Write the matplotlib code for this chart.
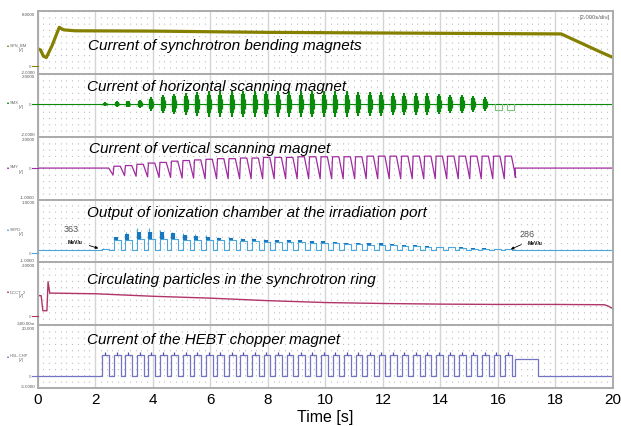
import matplotlib
matplotlib.use('Agg')
import matplotlib.pyplot as plt
from matplotlib.lines import Line2D

plt.rcParams['font.family'] = ['Liberation Sans', 'DejaVu Sans']

# ---- data (y in grid divisions 0..10 per panel) ----
# beam pulse start times [s] (chopper opens)
pulse_t = [2.25, 2.65, 3.05, 3.45, 3.85, 4.25, 4.65, 5.05, 5.45, 5.85, 6.25, 6.65,
           7.05, 7.45, 7.85, 8.25, 8.65, 9.05, 9.45, 9.85, 10.25, 10.65, 11.05, 11.45,
           11.85, 12.25, 12.65, 13.05, 13.45, 13.85, 14.25, 14.65, 15.05, 15.45, 15.85, 16.25]

# synchrotron bending magnet current
bend_t = [0.0, 0.1, 0.2, 0.3, 0.5, 0.75, 0.9, 1.3, 4.0, 8.0, 12.0, 18.2, 19.6, 20.0]
bend_y = [4.0, 3.8, 2.8, 2.6, 4.5, 7.4, 7.0, 6.85, 6.8, 6.6, 6.5, 6.35, 3.4, 2.6]

# horizontal scanning magnet: burst half amplitudes, then two small dips at the end
hor_base = 5.2
hor_amp = [0.25, 0.45, 0.55, 0.7, 1.1, 1.4, 1.6, 1.8, 1.9, 2.0, 2.0, 2.0, 2.1, 2.0, 2.1, 2.0, 2.0,
           2.0, 2.1, 2.0, 2.0, 2.0, 1.9, 1.9, 1.9, 1.8, 1.8, 1.7, 1.7, 1.6, 1.5, 1.4, 1.3, 1.1]
hor_dip = [1.0, 1.0]

# vertical scanning magnet: level at start of each cycle and level at its end
ver_base = 5.0
ver_top = [5.0, 5.3, 5.4, 5.6, 5.8, 5.9, 6.1, 6.2, 6.3, 6.4, 6.5, 6.5, 6.6, 6.6, 6.7, 6.7, 6.7, 6.8,
           6.8, 6.8, 6.8, 6.8, 6.8, 6.9, 6.9, 6.9, 6.9, 6.9, 6.9, 6.9, 6.9, 6.9, 6.9, 6.9, 6.9, 6.9]
ver_low = [3.9, 3.8, 3.7, 3.6, 3.5, 3.5, 3.4, 3.4, 3.3, 3.3, 3.3, 3.3, 3.3, 3.3, 3.3, 3.3, 3.3, 3.3,
           3.3, 3.3, 3.3, 3.3, 3.3, 3.3, 3.3, 3.3, 3.3, 3.3, 3.3, 3.3, 3.3, 3.3, 3.3, 3.3, 3.3, 3.5]

# ionization chamber: pulse plateau, first spike and dark (spill) part, above baseline
ic_base = 1.9
ic_top = [0.3, 1.6, 1.7, 1.8, 1.8, 1.8, 1.8, 1.7, 1.7, 1.7, 1.6, 1.6, 1.5, 1.5, 1.4, 1.4, 1.3, 1.3,
          1.2, 1.2, 1.1, 1.0, 1.0, 0.9, 0.9, 0.8, 0.7, 0.7, 0.6, 0.5, 0.5, 0.4, 0.3, 0.3, 0.2, 0.2]
ic_peak = [0.4, 2.0, 3.0, 3.5, 3.6, 3.3, 3.0, 2.8, 2.6, 2.4, 2.2, 2.1, 2.0, 1.9, 1.8, 1.7, 1.6, 1.5,
           1.5, 1.4, 1.3, 1.2, 1.2, 1.1, 1.0, 0.9, 0.9, 0.8, 0.7, 0.6, 0.6, 0.5, 0.4, 0.3, 0.3, 0.2]
ic_blob = [0.0, 0.6, 0.9, 1.1, 1.2, 1.1, 0.9, 0.7, 0.6, 0.5, 0.45, 0.4, 0.35, 0.35, 0.3, 0.3, 0.3,
           0.3, 0.3, 0.25, 0.25, 0.25, 0.2, 0.2, 0.2, 0.2, 0.15, 0.15, 0.15, 0.1, 0.1, 0.1, 0.1,
           0.05, 0.05, 0.05]

# circulating particles (DCCT)
circ_t = [0.0, 0.12, 0.18, 0.32, 0.36, 0.42, 0.5, 2.0, 4.0, 6.0, 8.0, 10.0, 12.0, 14.0, 16.0,
          18.0, 19.7, 19.85, 20.0]
circ_y = [4.7, 4.7, 2.3, 2.3, 6.9, 5.1, 5.1, 5.0, 4.6, 4.3, 3.9, 3.6, 3.45, 3.35, 3.3, 3.3,
          3.25, 3.0, 2.6]

# HEBT chopper magnet
chop_low = 1.9
chop_high = 5.3
chop_hold = [16.6, 17.4, 4.6]  # start, end, level of the last long pulse

titles = ['Current of synchrotron bending magnets',
          'Current of horizontal scanning magnet',
          'Current of vertical scanning magnet',
          'Output of ionization chamber at the irradiation port',
          'Circulating particles in the synchrotron ring',
          'Current of the HEBT chopper magnet']
channel_names = ['SYN_BM', 'SMX', 'SMY', 'SSPD', 'DCCT_2', 'HBL-CHP']
top_labels = ['8.0000', '2.0000', '2.0000', '1.0000', '2.0000', '20.000']
bottom_labels = ['-2.0000', '-2.0000', '-1.0000', '-1.0000', '-500.00m', '-5.0000']
colors = ['#858000', '#0a8a0a', '#a02aa0', '#4aa6dc', '#b03468', '#7474c4']
x_ticks = [0, 2, 4, 6, 8, 10, 12, 14, 16, 18, 20]

W, H = 621, 427


def px(x, y):
    return x / W, 1 - y / H


fig = plt.figure(figsize=(6.21, 4.27), dpi=100)
gs = fig.add_gridspec(6, 1, left=37.7 / W, right=613 / W, top=1 - 12 / H, bottom=1 - 389 / H, hspace=0)
axes = [fig.add_subplot(gs[i]) for i in range(6)]

for i, ax in enumerate(axes):
    ax.set_xlim(0, 20)
    ax.set_ylim(0, 10)
    ax.set_xticks(x_ticks)
    ax.set_xticks([t / 5 for t in range(101) if t % 10], minor=True)
    ax.set_yticks([])
    # dotted columns whose dot spacing equals one vertical division -> dot grid
    ax.grid(which='minor', axis='x', color='#bdbdbd', lw=0.8, ls=(0.4, (1, 4.65)))
    ax.grid(which='major', axis='x', color='#d4d4d4', lw=1.0, ls='-')
    ax.tick_params(which='both', length=0)
    for s in ax.spines.values():
        s.set_color('#ababab')
        s.set_linewidth(1.4)
    if i < 5:
        ax.tick_params(labelbottom=False)

# panel 1: bending magnet
axes[0].plot(bend_t, bend_y, color=colors[0], lw=2.3, solid_capstyle='butt')

# panel 2: horizontal scanning magnet
ax = axes[1]
ax.plot([0, 20], [hor_base, hor_base], color=colors[1], lw=0.8)
bx = [pulse_t[k] + 0.1 for k in range(len(hor_amp))]
ax.vlines(bx, [hor_base - a for a in hor_amp], [hor_base + a for a in hor_amp], color=colors[1], lw=1.5)
ax.vlines(bx, [hor_base - 0.75 * a for a in hor_amp], [hor_base + 0.75 * a for a in hor_amp],
          color=colors[1], lw=3.0)
ax.vlines(bx, [hor_base - 0.4 * a for a in hor_amp], [hor_base + 0.4 * a for a in hor_amp],
          color=colors[1], lw=3.8)
for k, d in enumerate(hor_dip):
    t0 = pulse_t[len(hor_amp) + k] + 0.05
    ax.plot([t0, t0, t0 + 0.25, t0 + 0.25], [hor_base, hor_base - d, hor_base - d, hor_base],
            color='#7cc47c', lw=0.8)

# panel 3: vertical scanning magnet (sawtooth per beam pulse)
ax = axes[2]
xs, ys = [0, pulse_t[0]], [ver_base, ver_base]
for k, t0 in enumerate(pulse_t):
    xs += [t0, t0 + 0.22, t0 + 0.37]
    ys += [ver_top[k], ver_top[k], ver_low[k]]
xs += [pulse_t[-1] + 0.37, 16.6, 16.6, 20]
ys += [ver_low[-1], ver_low[-1], ver_base, ver_base]
ax.plot(xs, ys, color=colors[2], lw=0.9)

# panel 4: ionization chamber
ax = axes[3]
xs, ys = [0], [ic_base]
for k, t0 in enumerate(pulse_t):
    xs += [t0, t0, t0 + 0.24, t0 + 0.24]
    ys += [ic_base, ic_base + ic_top[k], ic_base + ic_top[k], ic_base]
xs += [20]
ys += [ic_base]
ax.plot(xs, ys, color=colors[3], lw=0.8)
ax.vlines([t + 0.01 for t in pulse_t], [ic_base + v for v in ic_top], [ic_base + v for v in ic_peak],
          color=colors[3], lw=0.8)
ax.vlines([t + 0.07 for t in pulse_t], [ic_base + v for v in ic_top],
          [ic_base + v + b for v, b in zip(ic_top, ic_blob)], color='#1777bf', lw=3.0)
ax.text(1.18, 5.4, '363', fontsize=6.5, color='#555555', ha='center', va='center')
ax.text(1.3, 3.3, 'MeV/u', fontsize=3.6, fontweight='bold', color='black', ha='center', va='center')
ax.annotate('', xy=(2.2, 2.1), xytext=(1.7, 2.8),
            arrowprops=dict(arrowstyle='-|>', color='black', lw=0.6, mutation_scale=4))
ax.text(17.0, 4.6, '286', fontsize=6.5, color='#555555', ha='center', va='center')
ax.text(17.3, 3.1, 'MeV/u', fontsize=3.6, fontweight='bold', color='black', ha='center', va='center')
ax.annotate('', xy=(16.36, 1.9), xytext=(16.9, 3.0),
            arrowprops=dict(arrowstyle='-|>', color='black', lw=0.6, mutation_scale=4))

# panel 5: circulating particles
axes[4].plot(circ_t, circ_y, color=colors[4], lw=1.0)

# panel 6: chopper
ax = axes[5]
xs, ys = [0], [chop_low]
for t0 in pulse_t:
    xs += [t0, t0, t0 + 0.23, t0 + 0.23]
    ys += [chop_low, chop_high, chop_high, chop_low]
xs += [chop_hold[0], chop_hold[0], chop_hold[1], chop_hold[1], 20]
ys += [chop_low, chop_hold[2], chop_hold[2], chop_low, chop_low]
ax.plot(xs, ys, color=colors[5], lw=0.9)
ax.vlines([t + 0.09 for t in pulse_t], chop_high, chop_high + 0.35, color='#5050a8', lw=0.9)

# titles
title_pos = [(88, 46), (87, 87), (89, 149), (87, 213), (87, 280), (87, 340)]
for (x, y), t in zip(title_pos, titles):
    fig.text(*px(x, y), t, fontsize=11, style='italic', ha='left', va='center', color='black')

# scope labels at the left side
name_y = [47.7, 105, 169.3, 231.7, 294, 358]
zero_y = [66.7, 105, 169.3, 254, 316.7, 377.3]
panel_top = [12 + 62.83 * i for i in range(6)]
for i in range(6):
    fig.text(*px(35, panel_top[i] + 2.5), top_labels[i], fontsize=3.2, color='#555555', ha='right', va='center')
    fig.text(*px(35, panel_top[i] + 60.5), bottom_labels[i], fontsize=3.2, color='#555555', ha='right', va='center')
    fig.text(*px(7, name_y[i] - 1.5), '\u25a0', fontsize=2.5, color=colors[i], ha='left', va='center')
    fig.text(*px(10, name_y[i] - 2), channel_names[i], fontsize=3.0, color='#666666', ha='left', va='center')
    fig.text(*px(19, name_y[i] + 2.5), '[V]', fontsize=3.0, color='#666666', ha='left', va='center')
    fig.text(*px(31, zero_y[i]), '0', fontsize=3.2, color='#777777', ha='right', va='center')
    x0, y0 = px(32, zero_y[i])
    x1, _ = px(37.5, zero_y[i])
    fig.add_artist(Line2D([x0, x1], [y0, y0], color=colors[i], lw=0.8))

fig.text(*px(595, 17), '[2.000s/div]', fontsize=4.2, color='#666666', ha='center', va='center')

# time axis
axes[5].set_xticklabels([str(v) for v in x_ticks], fontsize=11)
axes[5].tick_params(axis='x', pad=3)
axes[5].set_xlabel('Time [s]', fontsize=11.5, labelpad=2)

fig.savefig('out.png', dpi=100)
